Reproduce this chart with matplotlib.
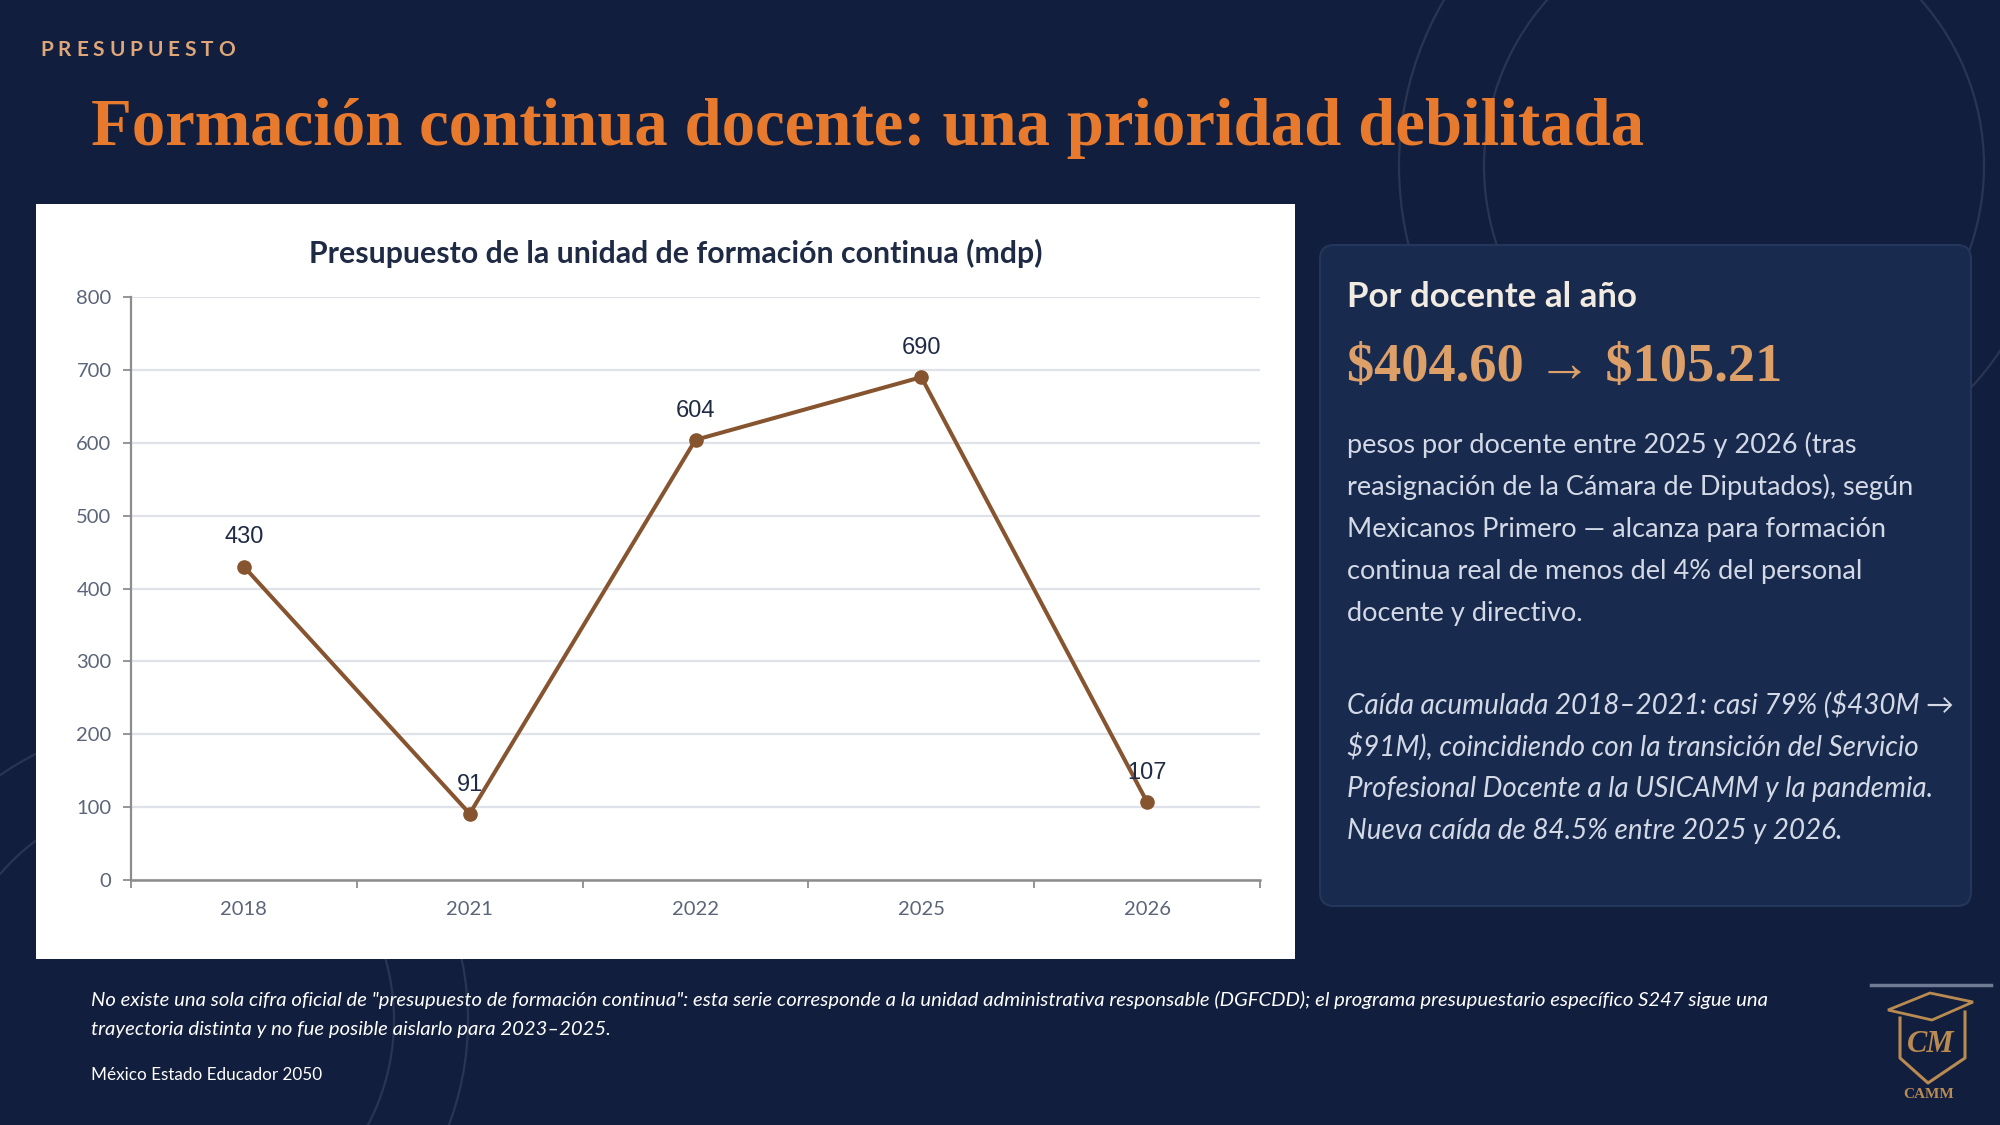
import matplotlib
matplotlib.use("Agg")
import matplotlib.pyplot as plt
from matplotlib.patches import Rectangle, FancyBboxPatch, Circle, Polygon
import numpy as np

# ---------------- data ----------------
years = ["2018", "2021", "2022", "2025", "2026"]
budget = [430, 91, 604, 690, 107]
y_ticks = [0, 100, 200, 300, 400, 500, 600, 700, 800]

kicker = "PRESUPUESTO"
title = "Formación continua docente: una prioridad debilitada"
chart_title = "Presupuesto de la unidad de formación continua (mdp)"
panel_head = "Por docente al año"
panel_figure = "$404.60 → $105.21"
panel_body = [
    "pesos por docente entre 2025 y 2026 (tras",
    "reasignación de la Cámara de Diputados), según",
    "Mexicanos Primero — alcanza para formación",
    "continua real de menos del 4% del personal",
    "docente y directivo.",
]
panel_italic = [
    "Caída acumulada 2018–2021: casi 79% ($430M →",
    "$91M), coincidiendo con la transición del Servicio",
    "Profesional Docente a la USICAMM y la pandemia.",
    "Nueva caída de 84.5% entre 2025 y 2026.",
]
footnote = [
    'No existe una sola cifra oficial de "presupuesto de formación continua": esta serie corresponde a la unidad administrativa responsable (DGFCDD); el programa presupuestario específico S247 sigue una',
    "trayectoria distinta y no fue posible aislarlo para 2023–2025.",
]
source = "México Estado Educador 2050"

# ---------------- colours ----------------
BG = "#111e3d"
PANEL = "#192a4f"
PANEL_EDGE = "#24365c"
ORANGE = "#e87a2e"
TAN = "#dfa679"
GOLD = "#dda069"
CREAM = "#f2ebe1"
BODY = "#d3d9e5"
LINE = "#875430"
NAVY = "#1f2a44"
TICK = "#5b6478"
GRID = "#dfe2e9"
CIRC = "#2a3553"

W, H = 2000, 1125
fig = plt.figure(figsize=(W / 100, H / 100), dpi=100, facecolor=BG)
bg = fig.add_axes([0, 0, 1, 1], zorder=0)
bg.set_xlim(0, W)
bg.set_ylim(H, 0)
bg.axis("off")
bg.set_facecolor(BG)
renderer = fig.canvas.get_renderer()

# decorative circles
for (cx, cy, r) in [(1728, 166, 329), (1734, 166, 250), (170, 1020, 298), (170, 1020, 224)]:
    bg.add_patch(Circle((cx, cy), r, fill=False, edgecolor=CIRC, lw=1.6, zorder=1))

# white chart card
bg.add_patch(Rectangle((36, 204), 1259, 755, facecolor="white", edgecolor="none", zorder=2))

# right panel
bg.add_patch(FancyBboxPatch((1320, 245), 651, 661, boxstyle="round,pad=0,rounding_size=14",
                            facecolor=PANEL, edgecolor=PANEL_EDGE, lw=1.5, zorder=2))


def fit_text(x, y, s, width, size0=20, **kw):
    t = bg.text(x, y, s, fontsize=size0, parse_math=False, zorder=5, **kw)
    w = t.get_window_extent(renderer).width
    t.set_fontsize(size0 * width / w)
    return t


# kicker with letter spacing
kx = 40
ksize = 15
letters = []
for ch in kicker:
    t = bg.text(kx, 50, ch, fontsize=ksize, fontweight="bold", color=TAN, family="Lato",
                va="center", ha="left", zorder=5, parse_math=False)
    letters.append(t)
widths = [t.get_window_extent(renderer).width for t in letters]
gap = (195 - sum(widths)) / (len(letters) - 1)
x = kx
for t, w in zip(letters, widths):
    t.set_x(x)
    x += w + gap

# main title
fit_text(91, 145, title, 1552, size0=50, family=["Liberation Serif", "DejaVu Serif"],
         fontweight="bold", color=ORANGE, va="baseline", ha="left")

# chart title
fit_text(676, 253, chart_title, 731, size0=20, family=["Lato", "DejaVu Sans"],
         fontweight="bold", color=NAVY, va="center", ha="center")

# panel text
fit_text(1347, 297, panel_head, 290, size0=22, family=["Lato", "DejaVu Sans"],
         fontweight="bold", color=CREAM, va="center", ha="left")
fit_text(1347, 368, panel_figure, 435, size0=34, family=["Liberation Serif", "DejaVu Serif"],
         fontweight="bold", color=GOLD, va="center", ha="left")

probe = bg.text(0, 0, panel_body[1], fontsize=20, family=["Lato", "DejaVu Sans"], parse_math=False)
body_size = 20 * 568 / probe.get_window_extent(renderer).width
probe.remove()
for i, line in enumerate(panel_body):
    bg.text(1347, 445 + 42 * i, line, fontsize=body_size, family=["Lato", "DejaVu Sans"],
            color=BODY, va="center", ha="left", zorder=5, parse_math=False)

probe = bg.text(0, 0, panel_italic[2], fontsize=20, family=["Lato", "DejaVu Sans"],
                style="italic", parse_math=False)
ital_size = 20 * 586 / probe.get_window_extent(renderer).width
probe.remove()
for i, line in enumerate(panel_italic):
    bg.text(1347, 705 + 42 * i, line, fontsize=ital_size, family=["Lato", "DejaVu Sans"],
            style="italic", color=BODY, va="center", ha="left", zorder=5, parse_math=False)

# footnote
probe = bg.text(0, 0, footnote[0], fontsize=12, family=["Lato", "DejaVu Sans"],
                style="italic", parse_math=False)
fn_size = 12 * 1668 / probe.get_window_extent(renderer).width
probe.remove()
for i, line in enumerate(footnote):
    bg.text(91, 1000 + 29 * i, line, fontsize=fn_size, family=["Lato", "DejaVu Sans"],
            style="italic", color="white", va="center", ha="left", zorder=5, parse_math=False)
fit_text(91, 1075, source, 230, size0=12, family=["Lato", "DejaVu Sans"],
         color="white", va="center", ha="left")

# logo
bg.plot([1871, 1991], [985, 985], color="#6f7b92", lw=2.5, zorder=5)
LOGO = "#b98a52"
bg.add_patch(Polygon([[1888, 1010], [1930, 993], [1973, 1002], [1932, 1020]], closed=True,
                     fill=False, edgecolor=LOGO, lw=2, zorder=5))
shield = [[1900, 1018], [1900, 1058], [1928, 1083], [1965, 1058], [1965, 1012]]
bg.plot([p[0] for p in shield], [p[1] for p in shield], color=LOGO, lw=2.2, zorder=5)
bg.text(1931, 1045, "CM", fontsize=22, family="Liberation Serif", style="italic",
        fontweight="bold", color=LOGO, ha="center", va="center", zorder=6)
bg.text(1929, 1095, "CAMM", fontsize=11, family="Liberation Serif", fontweight="bold",
        color=LOGO, ha="center", va="center", zorder=6)

# ---------------- chart ----------------
L, R, T, B = 131, 1260, 297, 880
ax = fig.add_axes([L / W, 1 - B / H, (R - L) / W, (B - T) / H], zorder=3)
ax.set_facecolor("white")
xpos = np.arange(len(years))
ax.plot(xpos, budget, color=LINE, lw=2.9, marker="o", markersize=9.5,
        markerfacecolor=LINE, markeredgecolor=LINE, zorder=4, clip_on=False)
for xi, v in zip(xpos, budget):
    ax.annotate(str(v), (xi, v), xytext=(0, 21), textcoords="offset points",
                ha="center", va="center", fontsize=17, color=NAVY,
                family=["Liberation Sans", "DejaVu Sans"], zorder=5)

ax.set_xlim(-0.5, len(years) - 0.5)
ax.set_ylim(0, 800)
ax.set_yticks(y_ticks)
ax.set_yticklabels([str(v) for v in y_ticks])
ax.set_xticks(xpos)
ax.set_xticklabels(years)
ax.set_xticks(np.arange(len(years) + 1) - 0.5, minor=True)
ax.tick_params(axis="x", which="major", length=0, pad=15, labelsize=14.5, labelcolor=TICK)
ax.tick_params(axis="x", which="minor", length=6, width=1.3, color="#8c8c8c", direction="out")
ax.tick_params(axis="y", which="major", length=6, width=1.3, color="#8c8c8c", pad=8,
               labelsize=14.5, labelcolor=TICK)
for lab in ax.get_xticklabels() + ax.get_yticklabels():
    lab.set_family(["Lato", "DejaVu Sans"])
ax.grid(axis="y", color=GRID, lw=1.6)
ax.set_axisbelow(True)
for s in ["top", "right"]:
    ax.spines[s].set_visible(False)
ax.spines["left"].set_color("#8c8c8c")
ax.spines["left"].set_linewidth(1.6)
ax.spines["bottom"].set_color("#8c8c8c")
ax.spines["bottom"].set_linewidth(1.8)

fig.savefig("out.png", dpi=100, facecolor=BG)
